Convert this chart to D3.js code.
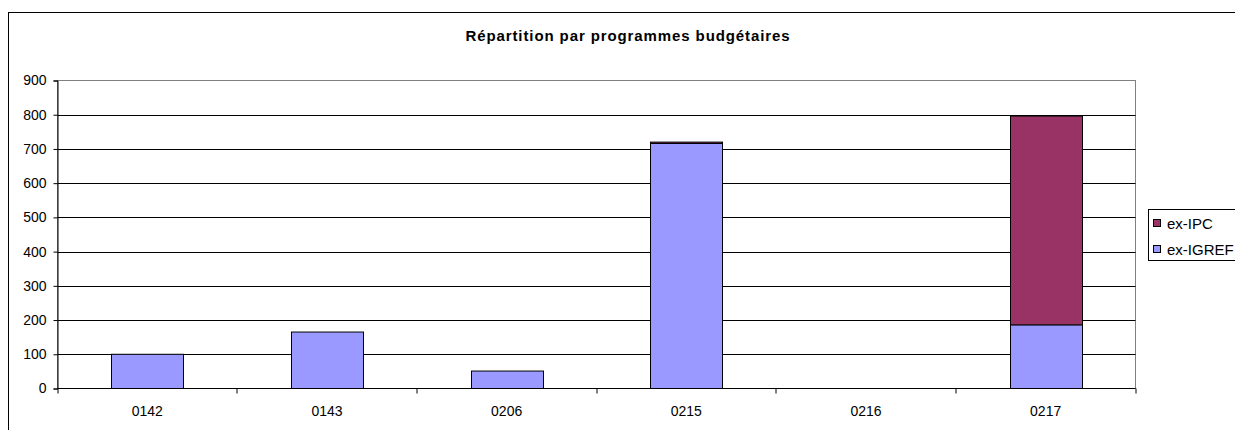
<!DOCTYPE html>
<html><head><meta charset="utf-8">
<script src="https://cdn.jsdelivr.net/npm/d3@7"></script>
<style>html,body{margin:0;padding:0;background:#fff;overflow:hidden}svg{display:block;font-family:"Liberation Sans",Arial,sans-serif}</style>
</head><body>
<svg id="c" width="1235" height="430"></svg>
<script>
const title = "Répartition par programmes budgétaires";
const categories = ["0142","0143","0206","0215","0216","0217"];
const exIGREF = [100,165,51,716,0,186];
const exIPC = [0,0,0,4,0,610];
const seriesNames = ["ex-IGREF","ex-IPC"];
const yTicks = [0,100,200,300,400,500,600,700,800,900];
const colors = {"ex-IGREF":"#9999FF","ex-IPC":"#993366"};

const svg = d3.select("#c");
svg.append("rect").attr("x",8.5).attr("y",12.5).attr("width",1260).attr("height",440)
  .attr("fill","#fff").attr("stroke","#000");

const L=57.5, R=1135.5, T=80.5, B=388.5;
const x = d3.scaleBand().domain(categories).range([L,R]).paddingInner(0.6).paddingOuter(0.3);
const xb = d3.scaleBand().domain(categories).range([L,R]);
const y = d3.scaleLinear().domain([0,900]).range([B,T]);

svg.append("text").attr("x",628).attr("y",41).attr("text-anchor","middle")
  .attr("font-size",15).attr("font-weight","bold").attr("letter-spacing","0.9px").text(title);

// plot border
svg.append("rect").attr("x",L).attr("y",T).attr("width",R-L).attr("height",B-T)
  .attr("fill","none").attr("stroke","#808080");
// gridlines
svg.append("g").selectAll("line").data(yTicks.filter(d=>d>0&&d<900)).join("line")
  .attr("x1",L).attr("x2",R).attr("y1",d=>Math.round(y(d))+0.5).attr("y2",d=>Math.round(y(d))+0.5)
  .attr("stroke","#000").attr("stroke-width",1);

// stacked data
const data = categories.map((c,i)=>({cat:c,"ex-IGREF":exIGREF[i],"ex-IPC":exIPC[i]}));
const stack = d3.stack().keys(seriesNames)(data);
svg.append("g").selectAll("g").data(stack).join("g").attr("fill",d=>colors[d.key])
  .selectAll("rect").data(d=>d.filter(p=>p[1]-p[0]>0)).join("rect")
  .attr("x",d=>Math.round(x(d.data.cat))+0.5).attr("width",Math.round(x.bandwidth()))
  .attr("y",d=>y(d[1])).attr("height",d=>y(d[0])-y(d[1]))
  .attr("stroke","#000").attr("stroke-width",1);

// y axis
const ya = svg.append("g").attr("transform",`translate(${L},0)`)
  .call(d3.axisLeft(y).tickValues(yTicks).tickSize(4).tickPadding(7));
ya.select(".domain").attr("stroke","#000");
ya.selectAll("text").attr("font-size",14).attr("font-family","Liberation Sans, Arial, sans-serif").attr("fill","#000");
// x axis
const xa = svg.append("g").attr("transform",`translate(0,${B})`);
xa.append("line").attr("x1",L).attr("x2",R).attr("stroke","#000");
xa.selectAll("line.tk").data(d3.range(categories.length+1)).join("line").attr("class","tk")
  .attr("x1",i=>Math.round(L+i*xb.step())).attr("x2",i=>Math.round(L+i*xb.step()))
  .attr("y1",0).attr("y2",5).attr("stroke","#000");
xa.selectAll("text").data(categories).join("text")
  .attr("x",d=>xb(d)+xb.bandwidth()/2).attr("y",27).attr("text-anchor","middle")
  .attr("font-size",14).text(d=>d);

// legend
const lg = svg.append("g");
lg.append("rect").attr("x",1148.5).attr("y",209.5).attr("width",120).attr("height",51)
  .attr("fill","#fff").attr("stroke","#000");
const leg = ["ex-IPC","ex-IGREF"];
leg.forEach((k,i)=>{
  const cy = 223.5 + i*26;
  lg.append("rect").attr("x",1153.5).attr("y",cy-4).attr("width",7).attr("height",7)
    .attr("fill",colors[k]).attr("stroke","#000");
  lg.append("text").attr("x",1167).attr("y",cy+5).attr("font-size",15).text(k);
});
</script>
</body></html>
